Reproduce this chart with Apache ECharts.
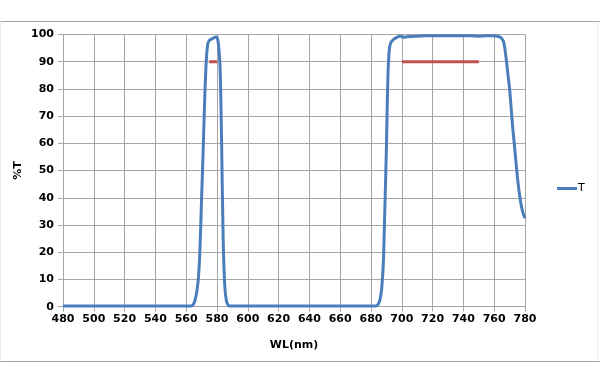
<!DOCTYPE html>
<html>
<head>
<meta charset="utf-8">
<script src="https://cdn.jsdelivr.net/npm/echarts@6/dist/echarts.min.js"></script>
<style>
html,body{margin:0;padding:0;background:#fff;}
#c{width:600px;height:383px;}
</style>
</head>
<body>
<div id="c"></div>
<script>
// Transmission curve: [wavelength nm, %T]
var wavelength = [480,500,520,540,560,563,564,565,566,567,568,569,570,571,572,573,574,575,576,577,578,579,580,581,582,583,584,585,586,587,588,590,600,620,640,660,680,683,684,685,686,687,688,689,690,691,692,693,694,695,696,697,698,699,700,702,704,706,708,710,715,720,725,730,735,740,745,750,755,760,762,764,766,767,768,769,770,771,772,773,774,775,776,777,778,779,780];
var transmission = [0.3,0.3,0.3,0.3,0.3,0.3,0.5,1.2,3,6,11,22,40,57,76,90,96.5,97.8,98.2,98.5,98.8,99.1,99,96,88,60,25,8,2.5,0.8,0.3,0.3,0.3,0.3,0.3,0.3,0.3,0.3,0.5,1.2,3,7,16,36,58,85,95,97.2,97.8,98.4,98.7,99,99.3,99.4,99.2,99.0,99.3,99.2,99.4,99.4,99.5,99.5,99.5,99.5,99.5,99.5,99.5,99.4,99.5,99.5,99.3,99,97.5,94.5,90,85,80,73,66,60,54,48,43,39,36,34,32.5];
// Spec marks (red)
var spec1Wl = [575,580], spec1T = [90,90];
var spec2Wl = [700,750], spec2T = [90,90];
var xTicks = {min:480, max:780, step:20};
var yTicks = {min:0, max:100, step:10};

function pairs(a,b){return a.map(function(v,i){return [v,b[i]];});}

var chart = echarts.init(document.getElementById('c'), null, {renderer:'canvas'});
var gridColor = '#a6a6a6';
var labelFont = {fontFamily:'DejaVu Sans', fontWeight:'bold', fontSize:11, color:'#000'};
chart.setOption({
  animation:false,
  backgroundColor:'#fff',
  grid:{left:63, right:75, top:34.5, bottom:76.3, containLabel:false},
  legend:{
    data:[{name:'T', icon:'rect'}],
    left:552, top:178, itemWidth:20, itemHeight:3, itemGap:2,
    textStyle:{fontFamily:'DejaVu Sans', fontSize:11, color:'#000', padding:[0,0,0,-4]}
  },
  xAxis:{
    type:'value', min:xTicks.min, max:xTicks.max, interval:xTicks.step,
    name:'WL(nm)', nameLocation:'middle', nameGap:33,
    nameTextStyle:labelFont,
    axisLine:{show:true, lineStyle:{color:gridColor, width:1}},
    axisTick:{show:true, length:5, lineStyle:{color:gridColor}},
    axisLabel:Object.assign({margin:7}, labelFont),
    splitLine:{show:true, lineStyle:{color:gridColor, width:1}}
  },
  yAxis:{
    type:'value', min:yTicks.min, max:yTicks.max, interval:yTicks.step,
    name:'%T', nameLocation:'middle', nameGap:45, nameRotate:90, nameMoveOverlap:false,
    nameTextStyle:Object.assign({verticalAlign:'middle'}, labelFont),
    axisLine:{show:true, lineStyle:{color:gridColor, width:1}},
    axisTick:{show:true, length:5, lineStyle:{color:gridColor}},
    axisLabel:Object.assign({margin:9}, labelFont),
    splitLine:{show:true, lineStyle:{color:gridColor, width:1}}
  },
  graphic:[
    {type:'line', shape:{x1:0,y1:21.5,x2:600,y2:21.5}, style:{stroke:'#a6a6a6', lineWidth:1}},
    {type:'line', shape:{x1:0,y1:361.5,x2:600,y2:361.5}, style:{stroke:'#a6a6a6', lineWidth:1}},
    {type:'line', shape:{x1:0.5,y1:21.5,x2:0.5,y2:361.5}, style:{stroke:'#eeeeee', lineWidth:1}},
    {type:'line', shape:{x1:597.5,y1:21.5,x2:597.5,y2:361.5}, style:{stroke:'#eeeeee', lineWidth:1}}
  ],
  series:[
    {name:'T', type:'line', data:pairs(wavelength, transmission), showSymbol:false, symbol:'none',
     smooth:0.3, lineStyle:{color:'#4a7ebb', width:3}, itemStyle:{color:'#4a7ebb'}, z:2},
    {name:'spec1', type:'line', data:pairs(spec1Wl, spec1T), showSymbol:false, symbol:'none',
     lineStyle:{color:'#c0504d', width:3}, itemStyle:{color:'#c0504d'}, z:3},
    {name:'spec2', type:'line', data:pairs(spec2Wl, spec2T), showSymbol:false, symbol:'none',
     lineStyle:{color:'#c0504d', width:3}, itemStyle:{color:'#c0504d'}, z:3}
  ]
});
</script>
</body>
</html>
